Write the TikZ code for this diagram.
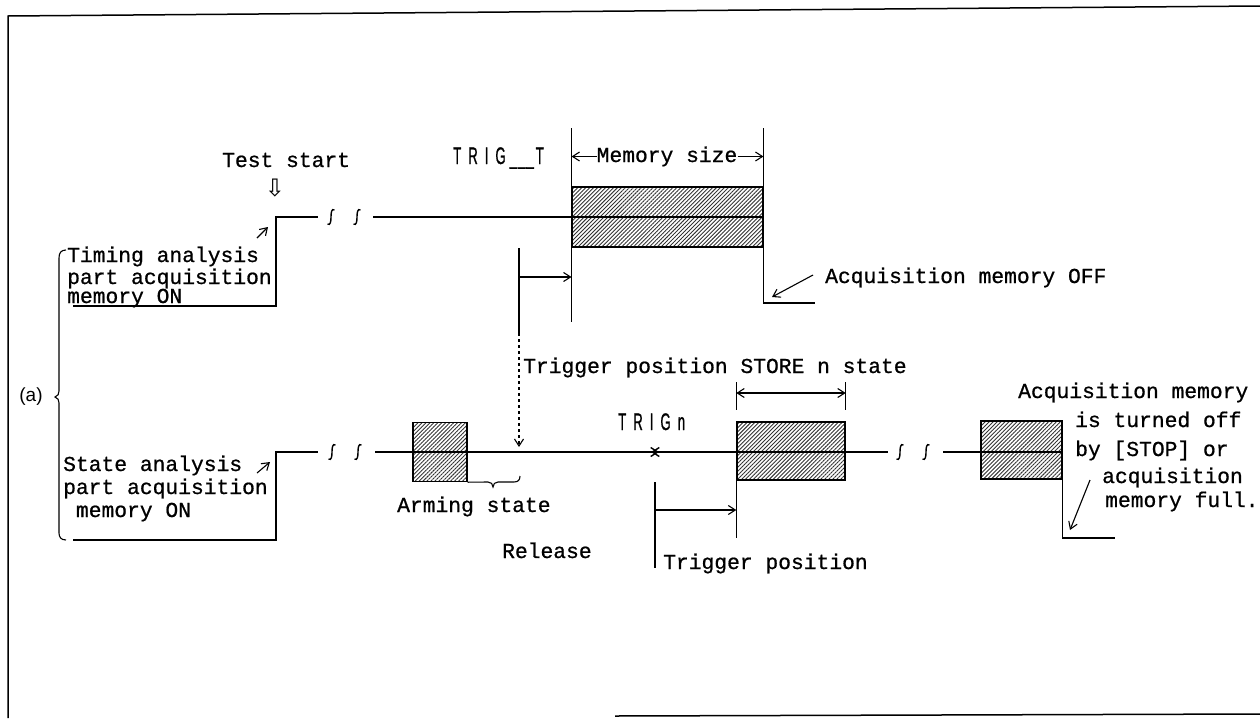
\documentclass[tikz,border=0pt]{standalone}
\usepackage{fontspec}
\setmonofont[FakeBold=0.8]{Liberation Mono}
\newfontfamily\sansf{Liberation Sans}
\newfontfamily\trigf[FakeStretch=0.55,FakeBold=0.8]{Liberation Sans}
\newfontfamily\symf{DejaVu Sans}
\usetikzlibrary{patterns.meta,arrows.meta}
\begin{document}
\begin{tikzpicture}[x=1pt,y=-1pt,
  wire/.style={line width=1.4pt},
  thinl/.style={line width=1.1pt},
  tip/.style={-{Straight Barb[length=7pt,width=9pt]}},
  tipb/.style={{Straight Barb[length=7pt,width=9pt]}-},
  tipbb/.style={{Straight Barb[length=7pt,width=9pt]}-{Straight Barb[length=7pt,width=9pt]}},
  txt/.style={font=\ttfamily\fontsize{21.3}{24}\selectfont,inner sep=0pt,anchor=base west,
    text height=13pt,text depth=2pt},
  trig/.style={font=\trigf\fontsize{24}{26}\selectfont,inner sep=0pt,anchor=base west},
  hbox/.style={draw,line width=1.4pt,inner sep=0pt,
    pattern={Lines[angle=45,distance=2.8pt,line width=0.9pt]},pattern color=black!80},
  brk/.pic={\draw[line width=1.4pt] (3.5,-7) .. controls (0.5,-9) and (0,-4) .. (0,0)
    .. controls (0,4) and (-0.5,9) .. (-3.5,7);}
]
\useasboundingbox (0,0) rectangle (1260,718);
% frame
\draw[line width=1.5pt] (8,718) -- (8,16) -- (1260,6);
\draw[line width=1.5pt] (615,716) -- (1260,714);

% ---------- timing (upper) ----------
\node[hbox,minimum width=191pt,minimum height=60pt] (mem) at (667.5,217) {};
\coordinate (tc) at (276,217);
\draw[wire] (73,306) -- (276,306) -- (tc) -- (318,217);
\pic at (331,217) {brk};
\pic at (357,217) {brk};
\draw[wire] (373,217) -- (mem.east |- tc);
\draw[wire] (mem.west |- 0,128) -- (mem.west |- 0,322);
\draw[wire] (mem.east |- 0,128) -- (mem.east |- 0,303) -- (815,303);

\node[txt] (ts) at (222,167) {Test start};
\node[font=\symf\fontsize{24}{26}\selectfont,inner sep=0pt] (tsa) at (275,188) {⇩};
\draw[thinl,tip] (257,238) -- (268,227);

\node[txt] (t1) at (67,262) {Timing analysis};
\node[txt] (t2) at (67,284) {part acquisition};
\node[txt] (t3) at (67,303) {memory ON};

\node[trig] (trigt) at (453,164) {T\kern7ptR\kern7ptI\kern7ptG\kern4pt\_\kern1pt\_\kern1pt\_\kern2ptT};
\node[txt,anchor=base] (ms) at (667,162) {Memory size};
\draw[thinl,tip] (ms.west) -- (ms.west -| mem.west);
\draw[thinl,tip] (ms.east) -- (ms.east -| mem.east);

\coordinate (tp) at (519,248);
\draw[wire] (tp) -- (519,333);
\draw[thinl,tip,dash pattern=on 3pt off 3pt] (519,333) -- (519,447);
\draw[thinl,tip] (519,277) -- (519,277 -| mem.west);

\node[txt] (off) at (825,283) {Acquisition memory OFF};
\draw[thinl,tip] (813,275) -- (772,297);

\node[txt] (tps) at (523,373) {Trigger position STORE n state};

% ---------- brace and (a) ----------
\node[font=\sansf\fontsize{19}{22}\selectfont,inner sep=0pt] (a) at (31,397) {(a)};
\draw[thinl] (66,250) .. controls (61,250) and (59,253) .. (59,258) -- (59,391)
  .. controls (59,394) and (58,396) .. (55,397) .. controls (58,398) and (59,400) .. (59,403)
  -- (59,533) .. controls (59,537) and (61,540) .. (66,540);

% ---------- state (lower) ----------
\node[hbox,minimum width=54pt,minimum height=59pt] (arm) at (440,452) {};
\node[hbox,minimum width=108pt,minimum height=58pt] (st) at (791,451) {};
\node[hbox,minimum width=81pt,minimum height=58pt] (fin) at (1021.5,450) {};
\coordinate (sc) at (276,452);
\draw[wire] (73,540) -- (276,540) -- (sc) -- (318,452);
\pic at (332,452) {brk};
\pic at (358,452) {brk};
\draw[wire,tip] (375,452) -- (659,452);
\draw[wire,tipb] (651,452) -- (888,452);
\pic at (900,452) {brk};
\pic at (926,452) {brk};
\draw[wire] (943,452) -- (fin.east |- 0,452);
\draw[wire] (fin.south east) -- (fin.east |- 0,538) -- (1115,538);
\draw[thinl,tip] (1090,480) -- (1070,530);

\node[txt] (s1) at (63,471) {State analysis};
\node[txt] (s2) at (63,494) {part acquisition};
\node[txt] (s3) at (63,517) {\ memory ON};
\draw[thinl,tip] (257,473) -- (270,462);

\draw[thinl] (arm.south east) -- (488,482) .. controls (491,482) and (493,484) .. (493,487)
  .. controls (493,484) and (495,482) .. (498,482) -- (514,482) .. controls (518,482) and (520,480) .. (520,476);
\node[txt] (arms) at (397,512) {Arming state};
\node[txt] (rel) at (502,558) {Release};
\node[trig] (trign) at (618,430) {T\kern7ptR\kern7ptI\kern7ptG\kern7ptn};

\draw[thinl] (st.west |- 0,382) -- (st.west |- 0,410);
\draw[thinl] (st.east |- 0,382) -- (st.east |- 0,410);
\draw[thinl,tipbb] (st.west |- 0,393) -- (st.east |- 0,393);
\draw[wire] (st.south west) -- (st.west |- 0,538);
\draw[wire] (655,482) -- (655,568);
\draw[thinl,tip] (655,510) -- (st.west |- 0,510);
\node[txt] (tpos) at (663,569) {Trigger position};

\node[txt] (f1) at (1018,398) {Acquisition memory};
\node[txt] (f2) at (1075,427) {is turned off};
\node[txt] (f3) at (1075,456) {by [STOP] or};
\node[txt] (f4) at (1102,483) {acquisition};
\node[txt] (f5) at (1105,507) {memory full.};
\end{tikzpicture}
\end{document}
